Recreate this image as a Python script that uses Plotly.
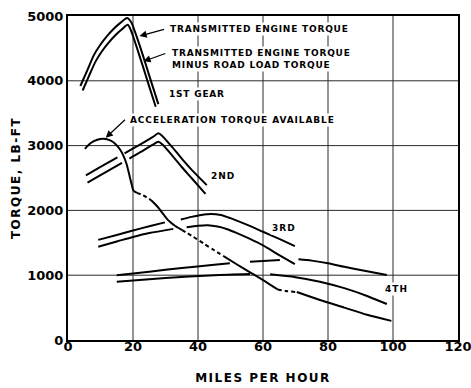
import plotly.graph_objects as go

# ---- torque curves (mph vs lb-ft); None marks a break in the drawn line ----
first_outer_mph = [3.8, 6, 8, 10, 12, 14, 16, 18.2, 19.5, 21, 23, 25, 27.8]
first_outer_torque = [3920, 4170, 4400, 4560, 4690, 4800, 4890, 4970, 4900, 4700, 4400, 4080, 3640]
first_inner_mph = [4.5, 6.5, 8.5, 10.5, 12.5, 14.5, 16.5, 18.4, 19.5, 21, 23, 25, 27.0]
first_inner_torque = [3850, 4080, 4300, 4460, 4590, 4700, 4790, 4865, 4760, 4540, 4230, 3910, 3600]

second_outer_mph = [5.5, 10, 15.2, None, 17.4, 22, 26, 27.8, 29, 32, 35, 38, 42.7]
second_outer_torque = [2540, 2670, 2820, None, 2880, 3010, 3130, 3190, 3150, 2980, 2800, 2630, 2390]
second_inner_mph = [6, 10, 16.6, None, 18.9, 22, 26, 27.8, 29, 32, 35, 38, 42.3]
second_inner_torque = [2430, 2545, 2735, None, 2800, 2890, 3010, 3060, 3020, 2850, 2670, 2500, 2255]

third_outer_mph = [9.3, 15, 20, 25, 29.8, None, 34.7, 38, 41, 44, 47, 50, 55, 60, 65, 69.8]
third_outer_torque = [1545, 1620, 1690, 1755, 1815, None, 1860, 1900, 1930, 1945, 1930, 1880, 1780, 1670, 1560, 1450]
third_inner_mph = [9.3, 15, 20, 25, 32.4, None, 36.5, 40, 43, 46, 49, 52, 56, 60, 65, 69.8]
third_inner_torque = [1440, 1520, 1590, 1650, 1715, None, 1740, 1762, 1770, 1750, 1710, 1650, 1560, 1460, 1310, 1170]

fourth_outer_mph = [15, 25, 35, 45, 49.8, None, 56, 65.2, None, 70.9, 75, 80, 85, 90, 98.1]
fourth_outer_torque = [1000, 1055, 1110, 1160, 1183, None, 1208, 1235, None, 1245, 1225, 1185, 1130, 1080, 1003]
fourth_inner_mph = [15, 30, 45, 56, None, 62.2, 70, 77.5, 85, 92, 98.1]
fourth_inner_torque = [900, 955, 1000, 1018, None, 1013, 970, 900, 800, 680, 555]

# acceleration torque available: solid runs and dashed transitions
accel_solid_mph = [5.2, 7, 9, 11, 13, 14.5, 16, 17, 18, 19, 19.6, 20.1, 21.2, None,
                   25.5, 27.5, 29.5, 31, 33, 35, None,
                   48, 52, 56, 60, 64.5, None,
                   70.4, 77.5, 85, 92, 99.5]
accel_solid_torque = [2950, 3040, 3090, 3105, 3080, 3030, 2940, 2850, 2720, 2520, 2400, 2310, 2270, None,
                      2160, 2060, 1930, 1840, 1760, 1700, None,
                      1290, 1165, 1045, 925, 780, None,
                      740, 617, 500, 390, 295]
accel_dash_mph = [21.2, 23, 25.5, None, 35, 38, 42, 45, 48, None, 64.5, 67, 70.4]
accel_dash_torque = [2270, 2235, 2160, None, 1700, 1610, 1480, 1385, 1290, None, 780, 755, 740]

x_ticks = [0, 20, 40, 60, 80, 100, 120]
y_ticks = [0, 1000, 2000, 3000, 4000, 5000]

FONT = "DejaVu Sans"
INK = "black"
GRID = "#2a2a2a"
X_MAX, Y_MAX = 120, 5000


def spaced(s, px=1.0):
    return f'<span style="letter-spacing:{px}px">{s}</span>'


fig = go.Figure()

# interior grid lines at the labelled ticks, drawn as a single broken trace
grid_x, grid_y = [], []
for v in x_ticks[1:-1]:
    grid_x += [v, v, None]
    grid_y += [0, Y_MAX, None]
for v in y_ticks[1:-1]:
    grid_x += [0, X_MAX, None]
    grid_y += [v, v, None]
fig.add_trace(go.Scatter(
    x=grid_x, y=grid_y, mode="lines", connectgaps=False, hoverinfo="skip",
    line=dict(color=GRID, width=1),
))

solid_curves = [
    (first_outer_mph, first_outer_torque),
    (first_inner_mph, first_inner_torque),
    (second_outer_mph, second_outer_torque),
    (second_inner_mph, second_inner_torque),
    (third_outer_mph, third_outer_torque),
    (third_inner_mph, third_inner_torque),
    (fourth_outer_mph, fourth_outer_torque),
    (fourth_inner_mph, fourth_inner_torque),
    (accel_solid_mph, accel_solid_torque),
]
for xs, ys in solid_curves:
    fig.add_trace(go.Scatter(
        x=xs, y=ys, mode="lines", connectgaps=False, hoverinfo="skip",
        line=dict(color=INK, width=2, shape="spline", smoothing=0.7),
    ))

fig.add_trace(go.Scatter(
    x=accel_dash_mph, y=accel_dash_torque, mode="lines", connectgaps=False, hoverinfo="skip",
    line=dict(color=INK, width=2, dash="4px,3px", shape="spline", smoothing=0.7),
))

label_font = dict(family=FONT, size=9, color=INK, weight="bold")

# curve labels
labels = [
    (30.8, 4799, spaced("TRANSMITTED ENGINE TORQUE", 0.8), "left"),
    (31.4, 4344, spaced("TRANSMITTED ENGINE TORQUE", 0.8) + "<br>" + spaced("MINUS ROAD LOAD TORQUE", 0.8), "left"),
    (30.5, 3796, spaced("1ST GEAR", 0.8), "left"),
    (18.5, 3395, spaced("ACCELERATION TORQUE AVAILABLE", 0.9), "left"),
    (47.7, 2531, spaced("2ND", 1.0), "center"),
    (66.5, 1728, spaced("3RD", 1.0), "center"),
    (101.2, 787, spaced("4TH", 1.0), "center"),
]
for x, y, text, anchor in labels:
    fig.add_annotation(x=x, y=y, text=text, showarrow=False, xanchor=anchor, yanchor="middle",
                       align="left", font=label_font, bgcolor="white")

# pointer arrows from labels to their curves
arrows = [
    ((30.0, 4799), (22.0, 4690)),
    ((30.4, 4430), (23.2, 4300)),
    ((18.0, 3420), (11.6, 3120)),
]
for (tx, ty), (hx, hy) in arrows:
    fig.add_annotation(x=hx, y=hy, ax=tx, ay=ty, axref="x", ayref="y", text="",
                       showarrow=True, arrowhead=2, arrowsize=1.2, arrowwidth=1.2, arrowcolor=INK)

tick_font = dict(family=FONT, size=13, color=INK, weight="bold")
title_font = dict(family=FONT, size=12, color=INK, weight="bold")

fig.update_xaxes(
    range=[0, X_MAX], tickvals=x_ticks, ticktext=[str(v) for v in x_ticks],
    showline=True, linecolor=INK, linewidth=2, mirror=True,
    showgrid=False, zeroline=False, ticks="", automargin=False,
    ticklabeloverflow="allow", ticklabelstandoff=-7,
    tickfont=tick_font,
    title=dict(text=spaced("MILES PER HOUR", 1.5), font=title_font, standoff=21),
)
fig.update_yaxes(
    range=[0, Y_MAX], tickvals=y_ticks, ticktext=[str(v) for v in y_ticks],
    showline=True, linecolor=INK, linewidth=2, mirror=True,
    showgrid=False, zeroline=False, ticks="", automargin=False,
    ticklabeloverflow="allow", ticklabelstandoff=0,
    tickfont=tick_font,
    title=dict(text=spaced("TORQUE, LB-FT", 1.5), font=title_font, standoff=4),
)

fig.update_layout(
    width=471, height=388,
    margin=dict(l=68, r=13, t=16, b=48),
    plot_bgcolor="white", paper_bgcolor="white",
    showlegend=False,
)

fig.write_html("out.html")
